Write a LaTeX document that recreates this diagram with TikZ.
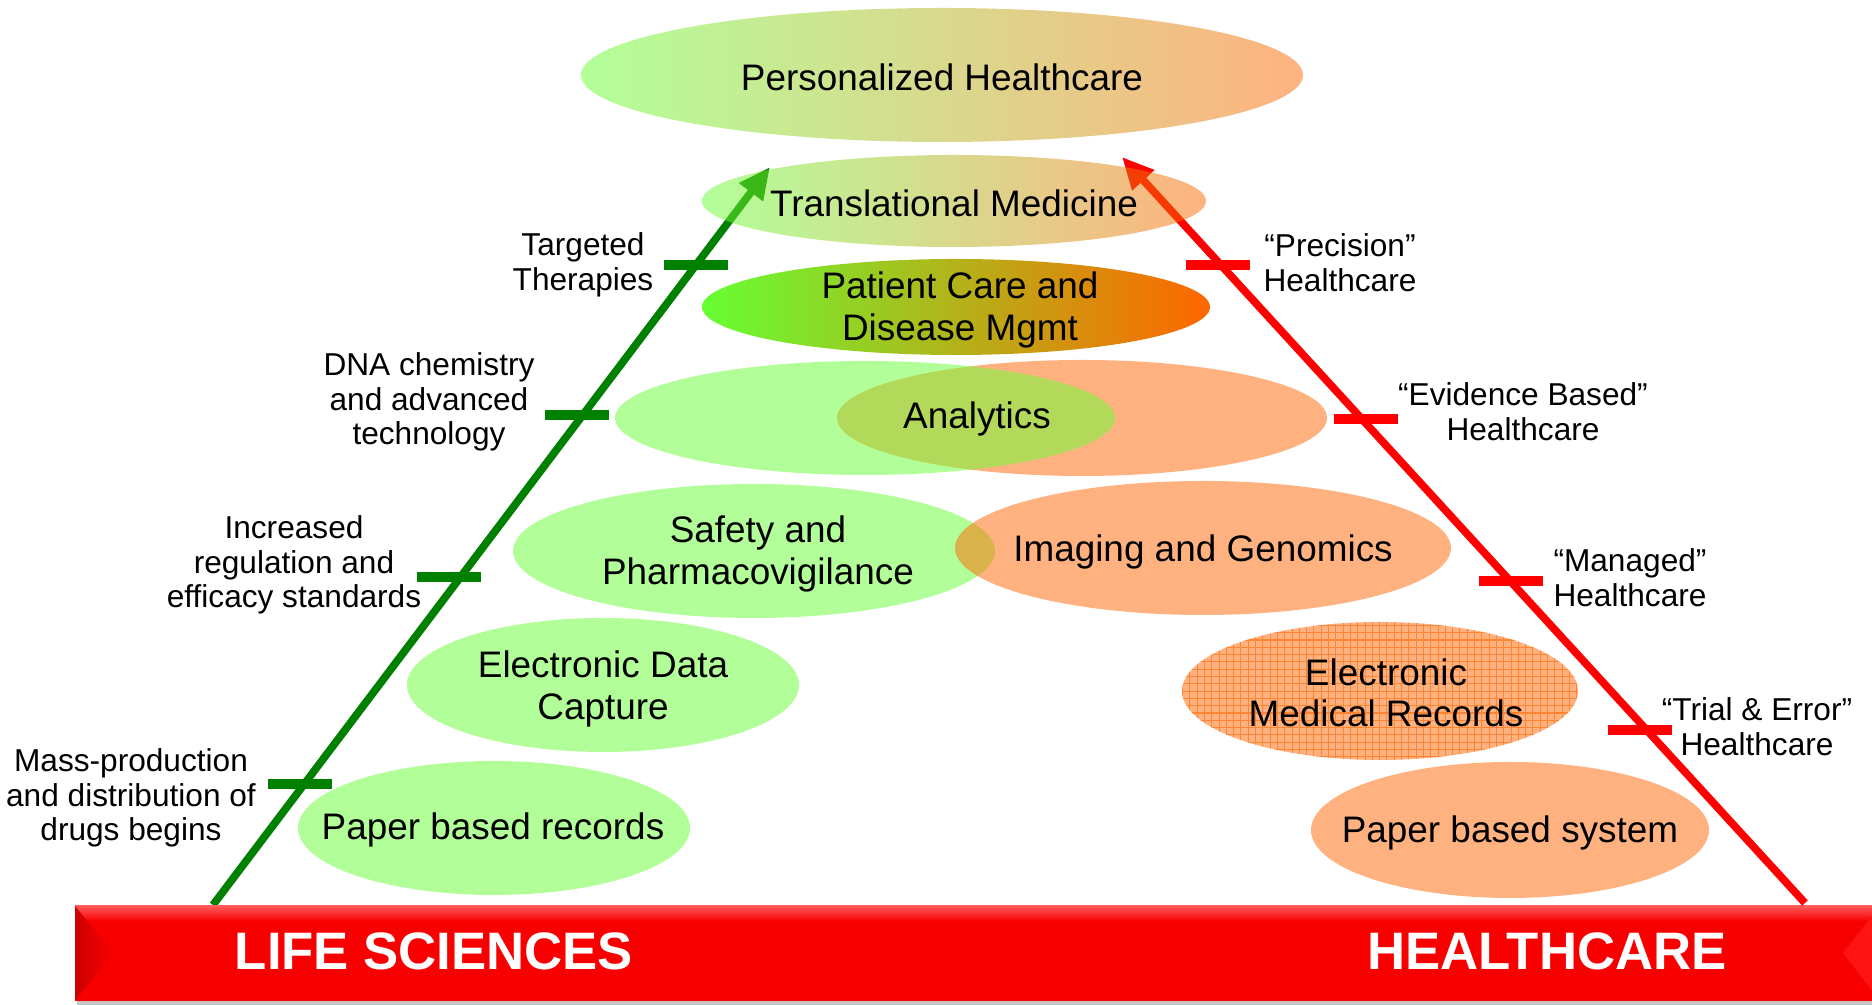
\documentclass[tikz,border=0pt]{standalone}
\usepackage{fontspec}
\setmainfont{Liberation Sans}
\usetikzlibrary{arrows.meta}
\definecolor{lgreen}{HTML}{66FF33}
\definecolor{lorange}{HTML}{FF6600}
\definecolor{dgreen}{HTML}{008000}
\definecolor{barred}{HTML}{F80000}
\begin{document}
\begin{tikzpicture}[
  txt/.style={align=center,font=\fontsize{10.5}{11.7}\selectfont},
  lbl/.style={align=center,font=\fontsize{9}{9.9}\selectfont},
  bartxt/.style={text=white,font=\fontsize{15}{18}\selectfont\bfseries},
  gfill/.style={fill=lgreen,fill opacity=0.5},
  ofill/.style={fill=lorange,fill opacity=0.5},
  garrow/.style={dgreen,line width=2.2pt,-{Triangle[length=9pt,width=8pt]}},
  rarrow/.style={red,line width=2.2pt,-{Triangle[length=9pt,width=8pt]}},
  gtick/.style={dgreen,line width=2.6pt},
  rtick/.style={red,line width=2.6pt}
]
\useasboundingbox (0,0) rectangle (18.72,10.05);
%arrows
\coordinate (gS) at (2.13,1.00);
\coordinate (gE) at (7.70,8.38);
\coordinate (rS) at (18.05,1.02);
\coordinate (rE) at (11.22,8.48);
\draw[garrow](gS)--(gE);
\draw[rarrow](rS)--(rE);
%ticks
\draw[gtick](6.96,7.40)++(-0.32,0)--++(0.64,0);
\draw[gtick](5.77,5.90)++(-0.32,0)--++(0.64,0);
\draw[gtick](4.49,4.28)++(-0.32,0)--++(0.64,0);
\draw[gtick](3.00,2.21)++(-0.32,0)--++(0.64,0);
\draw[rtick](12.18,7.40)++(-0.32,0)--++(0.64,0);
\draw[rtick](13.66,5.86)++(-0.32,0)--++(0.64,0);
\draw[rtick](15.11,4.24)++(-0.32,0)--++(0.64,0);
\draw[rtick](16.40,2.75)++(-0.32,0)--++(0.64,0);
%ellipses
\shade[left color=lgreen!50!white,right color=lorange!50!white](9.42,9.30)ellipse[x radius=3.61,y radius=0.67];
\shade[left color=lgreen,right color=lorange,fill opacity=0.5](9.54,8.04)ellipse[x radius=2.52,y radius=0.46];
\shade[left color=lgreen,right color=lorange](9.56,6.98)ellipse[x radius=2.54,y radius=0.48];
\fill[ofill](10.82,5.87)ellipse[x radius=2.45,y radius=0.58];
\fill[gfill](8.65,5.87)ellipse[x radius=2.50,y radius=0.57];
\fill[gfill](7.54,4.54)ellipse[x radius=2.41,y radius=0.67];
\fill[ofill](12.03,4.57)ellipse[x radius=2.48,y radius=0.67];
\fill[gfill](6.03,3.20)ellipse[x radius=1.96,y radius=0.67];
\begin{scope}
  \clip(13.80,3.14)ellipse[x radius=1.98,y radius=0.69];
  \fill[ofill](11.8,2.4)rectangle(15.8,3.9);
  \draw[lorange,line width=0.3pt,opacity=0.6,step=0.073](11.8,2.4)grid(15.8,3.9);
\end{scope}
\fill[gfill](4.94,1.77)ellipse[x radius=1.96,y radius=0.67];
\fill[ofill](15.10,1.75)ellipse[x radius=1.99,y radius=0.68];
%ellipse texts
\node[txt](phc) at (9.42,9.28){Personalized Healthcare};
\node[txt](tmed) at (9.54,8.02){Translational Medicine};
\node[txt](pcare) at (9.60,6.95){Patient Care and\\Disease Mgmt};
\node[txt](anl) at (9.77,5.86){Analytics};
\node[txt](safe) at (7.58,4.51){Safety and\\Pharmacovigilance};
\node[txt](img) at (12.03,4.53){Imaging and Genomics};
\node[txt](edc) at (6.03,3.16){Electronic Data\\Capture};
\node[txt](emr) at (13.86,3.12){Electronic\\Medical Records};
\node[txt](prec) at (4.93,1.75){Paper based records};
\node[txt](psys) at (15.10,1.72){Paper based system};
%labels
\node[lbl](tt) at (5.83,7.40){Targeted\\Therapies};
\node[lbl](dna) at (4.29,6.03){DNA chemistry\\and advanced\\technology};
\node[lbl](reg) at (2.94,4.40){Increased\\regulation and\\efficacy standards};
\node[lbl](mass) at (1.31,2.07){Mass-production\\and distribution of\\drugs begins};
\node[lbl](prh) at (13.40,7.42){“Precision”\\Healthcare};
\node[lbl](ebh) at (15.23,5.93){“Evidence Based”\\Healthcare};
\node[lbl](mgh) at (16.30,4.27){“Managed”\\Healthcare};
\node[lbl](teh) at (17.57,2.78){“Trial \& Error”\\Healthcare};
%bar
\fill[gray!45](0.77,0.00)rectangle(18.80,0.96);
\fill[barred](0.75,0.04)rectangle(18.80,0.99);
\shade[top color=red!65!white,bottom color=barred](0.75,0.84)rectangle(18.80,0.99);
\shade[left color=red!80!black,right color=barred](0.75,0.99)--(1.13,0.52)--(0.75,0.04)--cycle;
\fill[red!92!white](18.80,0.99)--(18.43,0.52)--(18.80,0.04)--cycle;
\node[bartxt](ls) at (4.34,0.535){LIFE SCIENCES};
\node[bartxt](hc) at (15.47,0.535){HEALTHCARE};
\end{tikzpicture}
\end{document}
